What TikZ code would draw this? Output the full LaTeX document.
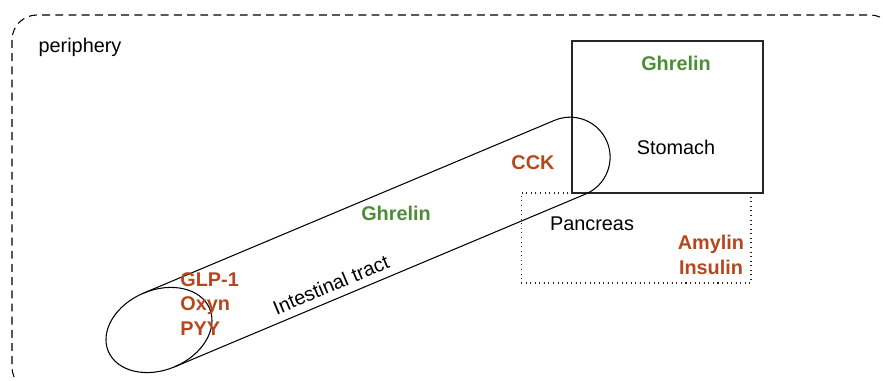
\documentclass[tikz,border=0pt]{standalone}
\usepackage{fontspec}
\setmainfont{Liberation Sans}
\usepackage{tikz}
\usepackage{xcolor}
\usetikzlibrary{positioning}

\definecolor{hormgreen}{HTML}{4C8C35}
\definecolor{hormred}{HTML}{B5461E}

\tikzset{
    organbox/.style={draw=black!85, line width=0.6pt, inner sep=0pt},
    txt/.style={inner sep=0pt, font=\fontsize{11.3}{14}\selectfont},
    green hormone/.style={txt, text=hormgreen, font=\fontsize{11.3}{14}\selectfont\bfseries},
    red hormone/.style={txt, text=hormred, font=\fontsize{11.3}{14}\selectfont\bfseries},
}

\begin{document}
\begin{tikzpicture}[x=0.02cm, y=-0.02cm]
            \useasboundingbox (0,0) rectangle (883,381);
            \draw[dashed, dash pattern=on 4.5pt off 3pt, line width=0.6pt, rounded corners=0.5cm] (12,15) rectangle (895,392);
            \node[txt] (periphery) at (80,47) {periphery};

            % organs
            \node[organbox, minimum width=3.82cm, minimum height=3.04cm] (stomach) at (667.5,117) {};
            \node[organbox, dotted, minimum width=4.6cm, minimum height=1.8cm] (pancreas) at (636,238) {};

            % intestinal tract as a tilted tube
            \begin{scope}[shift={(159,330)}, rotate=22.8]
                \coordinate (tubeend) at (0,0);
                \coordinate (tubecap) at (446,0);
                \draw[line width=0.6pt] (tubeend) ellipse [x radius=1.1cm, y radius=0.8cm];
                \draw[line width=0.6pt] (0,-40) -- (446,-40) arc (90:-90:0.8cm) -- (0,40);
                \node[txt, rotate=22.8] (tract) at (176,25) {Intestinal tract};
            \end{scope}

            \node[txt] (stomachlabel) at (676,147) {Stomach};
            \node[txt] (pancreaslabel) at (592,224) {Pancreas};

            \node[green hormone] (ghrelin1) at (676,63) {Ghrelin};
            \node[green hormone] (ghrelin2) at (396,213) {Ghrelin};
            \node[red hormone] (cck) at (533,163) {CCK};
            \node[red hormone, align=center] (amylin) at (711,255) {Amylin\\Insulin};
            \node[red hormone, align=left, anchor=west] (glp) at (180,304) {GLP-1\\Oxyn\\PYY};
        \end{tikzpicture}
\end{document}
